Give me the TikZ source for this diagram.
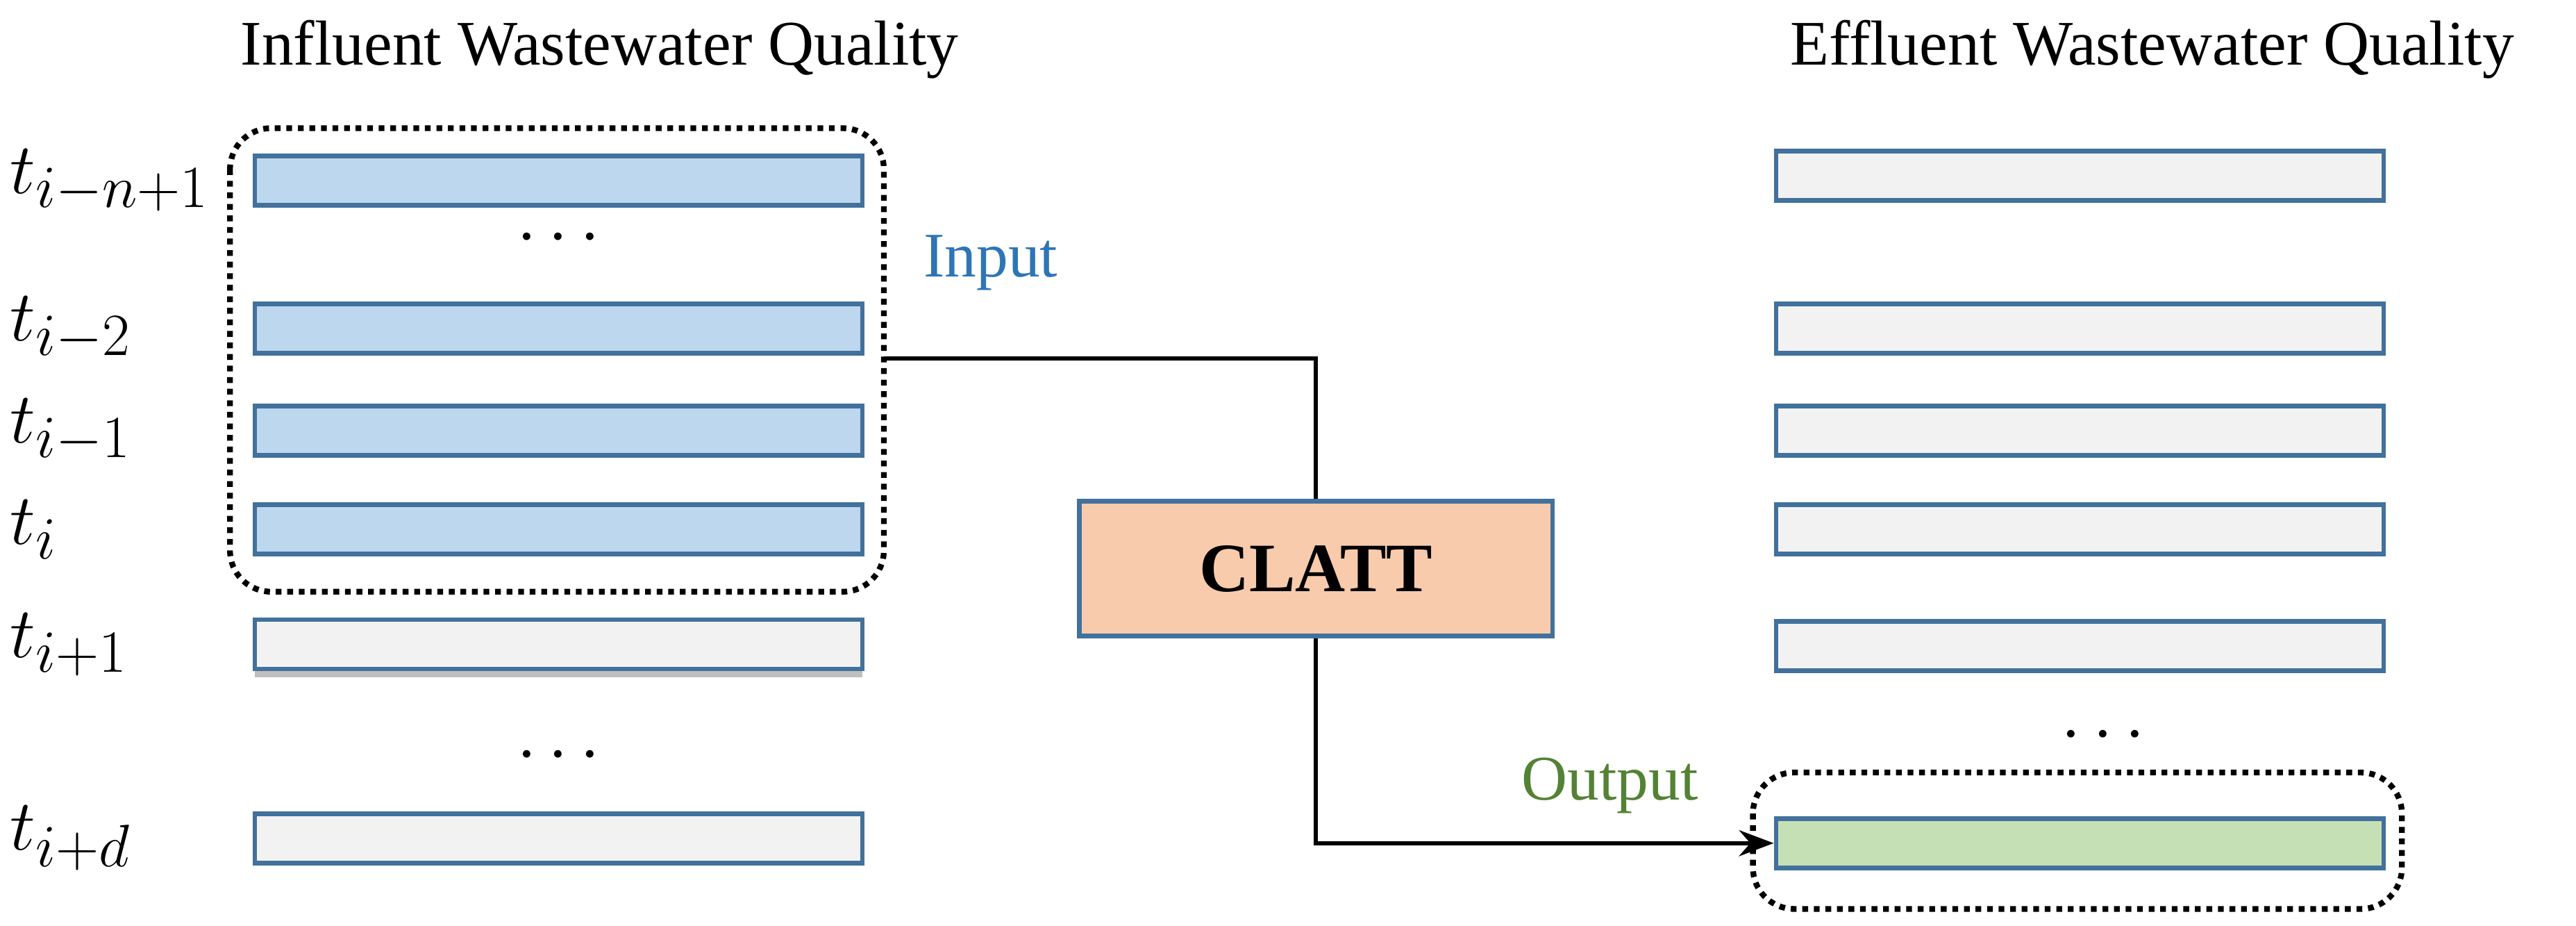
\documentclass[tikz,border=0pt]{standalone}
\usepackage{fontspec}
\setmainfont{Liberation Serif}
\usetikzlibrary{arrows.meta,shadows}
\begin{document}
\begin{tikzpicture}[x=0.02cm,y=-0.02cm,
  bar/.style={draw=barb,line width=1.6pt,minimum width=7.4cm,minimum height=0.6cm,inner sep=0pt},
  inb/.style={bar,fill=barblue},
  grb/.style={bar,fill=bargray},
  lab/.style={font=\fontsize{28}{32}\selectfont,anchor=west},
  dotbox/.style={draw,line width=2pt,dotted,rounded corners=0.5cm},
  conn/.style={line width=1.5pt}]
\definecolor{barb}{HTML}{41719C}
\definecolor{barblue}{HTML}{BDD7EE}
\definecolor{bargray}{HTML}{F2F2F2}
\definecolor{bargreen}{HTML}{C5E0B4}
\definecolor{peach}{HTML}{F8CBAD}
\definecolor{inblue}{HTML}{2E75B6}
\definecolor{outgreen}{HTML}{548235}
\useasboundingbox (0,0) rectangle (1568,563);
\node (t1) at (365,30) {\fontsize{22}{26}\selectfont Influent Wastewater Quality};
\node (t2) at (1310,30) {\fontsize{22}{26}\selectfont Effluent Wastewater Quality};
% left bars
\node[inb] (l1) at (340,110) {};
\node[inb] (l2) at (340,200) {};
\node[inb] (l3) at (340,262) {};
\node[inb] (l4) at (340,322) {};
\node[grb,drop shadow={shadow xshift=0pt,shadow yshift=-3pt,opacity=0.5}] (l5) at (340,392) {};
\node[grb] (l6) at (340,510) {};
\node (d1) at (340,145) {\fontsize{24}{28}\selectfont $\cdots$};
\node (d2) at (340,460) {\fontsize{24}{28}\selectfont $\cdots$};
\node[lab] (a1) at (0,110) {$t_{i-n+1}$};
\node[lab] (a2) at (0,200) {$t_{i-2}$};
\node[lab] (a3) at (0,262) {$t_{i-1}$};
\node[lab] (a4) at (0,322) {$t_{i}$};
\node[lab] (a5) at (0,392) {$t_{i+1}$};
\node[lab] (a6) at (0,510) {$t_{i+d}$};
\draw[dotbox] (140,78) rectangle (538,360);
\node[text=inblue] (inp) at (603,160) {\fontsize{22}{26}\selectfont Input};
% CLATT
\node[draw=barb,fill=peach,line width=1.6pt,minimum width=5.76cm,minimum height=1.64cm] (cl) at (801,346) {\fontsize{24}{28}\selectfont\bfseries CLATT};
% right bars
\node[grb] (r1) at (1266,107) {};
\node[grb] (r2) at (1266,200) {};
\node[grb] (r3) at (1266,262) {};
\node[grb] (r4) at (1266,322) {};
\node[grb] (r5) at (1266,393) {};
\node[bar,fill=bargreen] (r6) at (1266,513) {};
\node (d3) at (1280,448) {\fontsize{24}{28}\selectfont $\cdots$};
\draw[dotbox] (1067,470) rectangle (1462,553);
\node[text=outgreen] (outp) at (980,478) {\fontsize{22}{26}\selectfont Output};
\coordinate (c1) at (538,218);
\draw[conn] (c1) -| (cl.north);
\draw[conn,-{Stealth[length=12pt,width=9pt]}] (cl.south) |- (r6.west);
\end{tikzpicture}
\end{document}
